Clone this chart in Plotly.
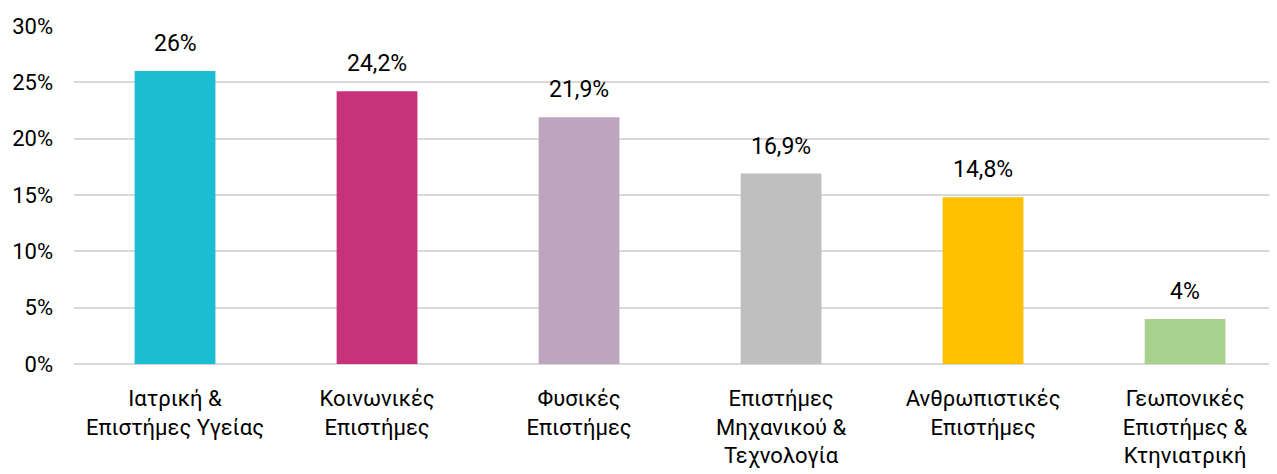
import plotly.graph_objects as go

categories = [
    "Ιατρική &<br>Επιστήμες Υγείας",
    "Κοινωνικές<br>Επιστήμες",
    "Φυσικές<br>Επιστήμες",
    "Επιστήμες<br>Μηχανικού &<br>Τεχνολογία",
    "Ανθρωπιστικές<br>Επιστήμες",
    "Γεωπονικές<br>Επιστήμες &<br>Κτηνιατρική",
]
values = [26.0, 24.2, 21.9, 16.9, 14.8, 4.0]
labels = ["26%", "24,2%", "21,9%", "16,9%", "14,8%", "4%"]
colors = ["#1ABED0", "#C8327A", "#BDA6BD", "#BFBFBF", "#FFC000", "#A9D18E"]
y_ticks = [0, 5, 10, 15, 20, 25, 30]
y_tick_text = ["0%", "5%", "10%", "15%", "20%", "25%", "30%"]

FONT = "Roboto, sans-serif"

fig = go.Figure(
    go.Bar(
        x=categories,
        y=values,
        marker=dict(color=colors, line=dict(width=0)),
        hoverinfo="skip",
    )
)

for c, v, t in zip(categories, values, labels):
    fig.add_annotation(
        x=c, y=v, text=t, showarrow=False,
        yanchor="bottom", yshift=12,
        font=dict(size=23, family=FONT, color="#000000"),
    )

fig.update_layout(
    width=1269,
    height=466,
    margin=dict(l=66, r=1, t=18, b=110),
    plot_bgcolor="white",
    paper_bgcolor="white",
    bargap=0.6,
    showlegend=False,
    font=dict(family=FONT, size=22, color="#000000"),
)
fig.update_xaxes(
    range=[-0.5, 5.45],
    automargin=False,
    showgrid=False,
    showline=False,
    ticks="",
    ticklabelstandoff=19,
    tickfont=dict(size=22, family=FONT, color="#000000"),
)
fig.update_yaxes(
    range=[0, 30],
    automargin=False,
    tickvals=y_ticks,
    ticktext=y_tick_text,
    showgrid=True,
    gridcolor="#D9D9D9",
    gridwidth=2,
    zeroline=True,
    zerolinecolor="#D9D9D9",
    zerolinewidth=2,
    showline=False,
    ticks="",
    ticklabelstandoff=20,
    tickfont=dict(size=22, family=FONT, color="#000000"),
)

fig.write_html("out.html")
